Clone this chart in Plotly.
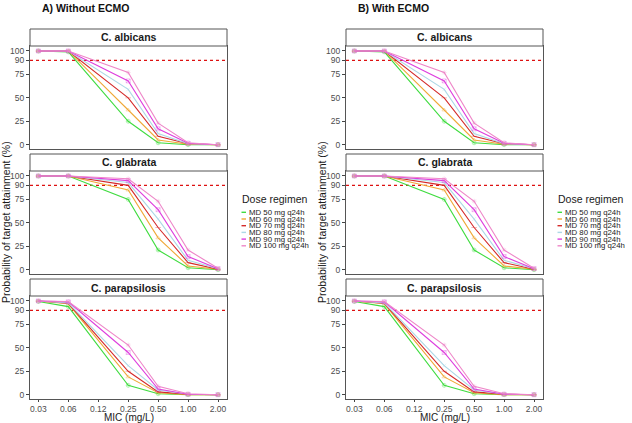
import plotly.graph_objects as go

# ---------------- data ----------------
MIC_TICKS = ["0.03", "0.06", "0.12", "0.25", "0.50", "1.00", "2.00"]
MIC_SAMPLED = ["0.03", "0.06", "0.25", "0.50", "1.00", "2.00"]
DOSES = ["MD 50 mg q24h", "MD 60 mg q24h", "MD 70 mg q24h",
         "MD 80 mg q24h", "MD 90 mg q24h", "MD 100 mg q24h"]
SPECIES = ["C. albicans", "C. glabrata", "C. parapsilosis"]
PANELS = ["A) Without ECMO", "B) With ECMO"]
Y_TICKS = [0, 25, 50, 75, 90, 100]
TARGET = 90

# PTA (%) per dose (rows) at each sampled MIC (columns)
ALBICANS_NO_ECMO = [
    [100, 99, 25, 2, 0, 0],
    [100, 100, 37, 5, 0.5, 0],
    [100, 100, 50, 9, 1, 0],
    [100, 100, 59, 12, 1, 0],
    [100, 100, 68, 17, 1.5, 0],
    [100, 100, 77, 23, 2, 0],
]
GLABRATA_NO_ECMO = [
    [100, 100, 75, 21, 2, 0],
    [100, 100, 85, 34, 4, 0.5],
    [100, 100, 90, 45, 7.5, 0.5],
    [100, 100, 93, 54, 10, 1],
    [100, 100, 95, 64, 14, 1],
    [100, 100, 97, 73, 21, 1.5],
]
PARAPSILOSIS_NO_ECMO = [
    [99.5, 94, 10, 1, 0, 0],
    [100, 97, 19, 2, 0, 0],
    [100, 97.5, 25, 3, 0.5, 0],
    [100, 98, 31, 5, 0.5, 0],
    [100, 99, 45, 6, 0.5, 0],
    [100, 99.5, 53, 9, 1, 0],
]
ALBICANS_ECMO = [
    [100, 99, 25, 2, 0, 0],
    [100, 100, 37, 5, 0.5, 0],
    [100, 100, 50, 9, 1, 0],
    [100, 100, 59, 12, 1, 0],
    [100, 100, 68, 17, 1.5, 0],
    [100, 100, 77, 23, 2, 0],
]
GLABRATA_ECMO = [
    [100, 100, 75, 21, 2, 0],
    [100, 100, 85, 34, 4, 0.5],
    [100, 100, 90, 45, 7.5, 0.5],
    [100, 100, 93, 54, 10, 1],
    [100, 100, 95, 64, 14, 1],
    [100, 100, 97, 73, 21, 1.5],
]
PARAPSILOSIS_ECMO = [
    [99.5, 94, 10, 1, 0, 0],
    [100, 97, 19, 2, 0, 0],
    [100, 97.5, 25, 3, 0.5, 0],
    [100, 98, 31, 5, 0.5, 0],
    [100, 99, 45, 6, 0.5, 0],
    [100, 99.5, 53, 9, 1, 0],
]

# ---------------- styles ----------------
COLORS = ["#3fdc3f", "#f0a837", "#d42a2a", "#acd8e6", "#de3ede", "#ee86c8"]
SYMBOLS = ["circle-cross-open", "triangle-up-open", "line-ew-open",
           "x-thin-open", "square-x-open", "asterisk-open"]
FONT = "Arial, Liberation Sans, sans-serif"
W, H = 632, 423

def fx(p):
    return p / W

def fy(p):
    return 1 - p / H

COL_PX = [(30, 227), (346, 543)]
ROW_PX = [(46, 149), (171, 274), (296, 399)]
STRIP_PX = [(29, 46), (154, 171), (279, 296)]

DATA = [
    [ALBICANS_NO_ECMO, GLABRATA_NO_ECMO, PARAPSILOSIS_NO_ECMO],
    [ALBICANS_ECMO, GLABRATA_ECMO, PARAPSILOSIS_ECMO],
]

x_pos = [MIC_TICKS.index(m) for m in MIC_SAMPLED]

fig = go.Figure()
layout = dict(
    width=W, height=H, margin=dict(l=0, r=0, t=0, b=0),
    paper_bgcolor="white", plot_bgcolor="white", showlegend=False,
    font=dict(family=FONT, color="#222"),
)
shapes, annotations = [], []

n = 0
for c, panel in enumerate(DATA):
    for r, series in enumerate(panel):
        n += 1
        xa = "x" if n == 1 else f"x{n}"
        ya = "y" if n == 1 else f"y{n}"
        for d, vals in enumerate(series):
            fig.add_trace(go.Scatter(
                x=x_pos, y=vals, mode="lines+markers", xaxis=xa, yaxis=ya,
                name=DOSES[d],
                line=dict(color=COLORS[d], width=1.1),
                marker=dict(symbol=SYMBOLS[d], size=4, color=COLORS[d],
                            line=dict(width=0.6, color=COLORS[d]), opacity=0.55),
            ))
        bottom = r == 2
        layout["xaxis" if n == 1 else f"xaxis{n}"] = dict(
            domain=[fx(COL_PX[c][0]), fx(COL_PX[c][1])], anchor=ya,
            range=[-0.28, 6.3], tickmode="array",
            tickvals=list(range(len(MIC_TICKS))), ticktext=MIC_TICKS,
            showticklabels=bottom, ticks="outside" if bottom else "",
            ticklen=2, tickcolor="#444",
            tickfont=dict(size=8.5, color="#4d4d4d", family=FONT),
            showline=True, mirror=True, linecolor="#555", linewidth=1,
            showgrid=False, zeroline=False,
        )
        layout["yaxis" if n == 1 else f"yaxis{n}"] = dict(
            domain=[fy(ROW_PX[r][1]), fy(ROW_PX[r][0])], anchor=xa,
            range=[-4.6, 105.3], tickmode="array", tickvals=Y_TICKS,
            ticktext=[str(v) for v in Y_TICKS],
            ticks="outside", ticklen=3, tickcolor="#444",
            tickfont=dict(size=8.5, color="#4d4d4d", family=FONT),
            showline=True, mirror=True, linecolor="#555", linewidth=1,
            showgrid=False, zeroline=False,
        )
        # target line
        shapes.append(dict(
            type="line", xref=f"{xa} domain", yref=ya, x0=0, x1=1,
            y0=TARGET, y1=TARGET,
            line=dict(color="#dd1111", width=1.2, dash="dot"), layer="below",
        ))
        # facet strip
        shapes.append(dict(
            type="rect", xref="paper", yref="paper",
            x0=fx(COL_PX[c][0]), x1=fx(COL_PX[c][1]),
            y0=fy(STRIP_PX[r][1]), y1=fy(STRIP_PX[r][0]),
            line=dict(color="#555", width=1), fillcolor="white",
        ))
        annotations.append(dict(
            xref="paper", yref="paper",
            x=fx((COL_PX[c][0] + COL_PX[c][1]) / 2),
            y=fy((STRIP_PX[r][0] + STRIP_PX[r][1]) / 2),
            text=f"<b>{SPECIES[r]}</b>", showarrow=False,
            font=dict(size=10.5, color="#1a1a1a", family=FONT),
            xanchor="center", yanchor="middle",
        ))

    off = COL_PX[c][0] - COL_PX[0][0]
    # panel title
    annotations.append(dict(
        xref="paper", yref="paper", x=fx(40 + off), y=fy(8),
        text=f"<b>{PANELS[c]}</b>", showarrow=False,
        font=dict(size=10.5, color="#111", family=FONT),
        xanchor="left", yanchor="middle",
    ))
    # y-axis title
    annotations.append(dict(
        xref="paper", yref="paper", x=fx(6 + off), y=fy(222),
        text="Probability of target attainment (%)", showarrow=False,
        textangle=-90, font=dict(size=10.5, color="#1a1a1a", family=FONT),
        xanchor="center", yanchor="middle",
    ))
    # x-axis title
    annotations.append(dict(
        xref="paper", yref="paper", x=fx((COL_PX[c][0] + COL_PX[c][1]) / 2),
        y=fy(417.5), text="MIC (mg/L)", showarrow=False,
        font=dict(size=10, color="#1a1a1a", family=FONT),
        xanchor="center", yanchor="middle",
    ))
    # legend
    annotations.append(dict(
        xref="paper", yref="paper", x=fx(240 + off), y=fy(199.5),
        text="Dose regimen", showarrow=False,
        font=dict(size=10.5, color="#1a1a1a", family=FONT),
        xanchor="left", yanchor="middle",
    ))
    for d, name in enumerate(DOSES):
        yy = 212.3 + d * 6.7
        shapes.append(dict(
            type="line", xref="paper", yref="paper",
            x0=fx(241.5 + off), x1=fx(246 + off), y0=fy(yy), y1=fy(yy),
            line=dict(color=COLORS[d], width=1.4),
        ))
        annotations.append(dict(
            xref="paper", yref="paper", x=fx(247 + off), y=fy(yy),
            text=name, showarrow=False,
            font=dict(size=7.8, color="#1a1a1a", family=FONT),
            xanchor="left", yanchor="middle",
        ))

layout["shapes"] = shapes
layout["annotations"] = annotations
fig.update_layout(**layout)
fig.write_html("out.html")
